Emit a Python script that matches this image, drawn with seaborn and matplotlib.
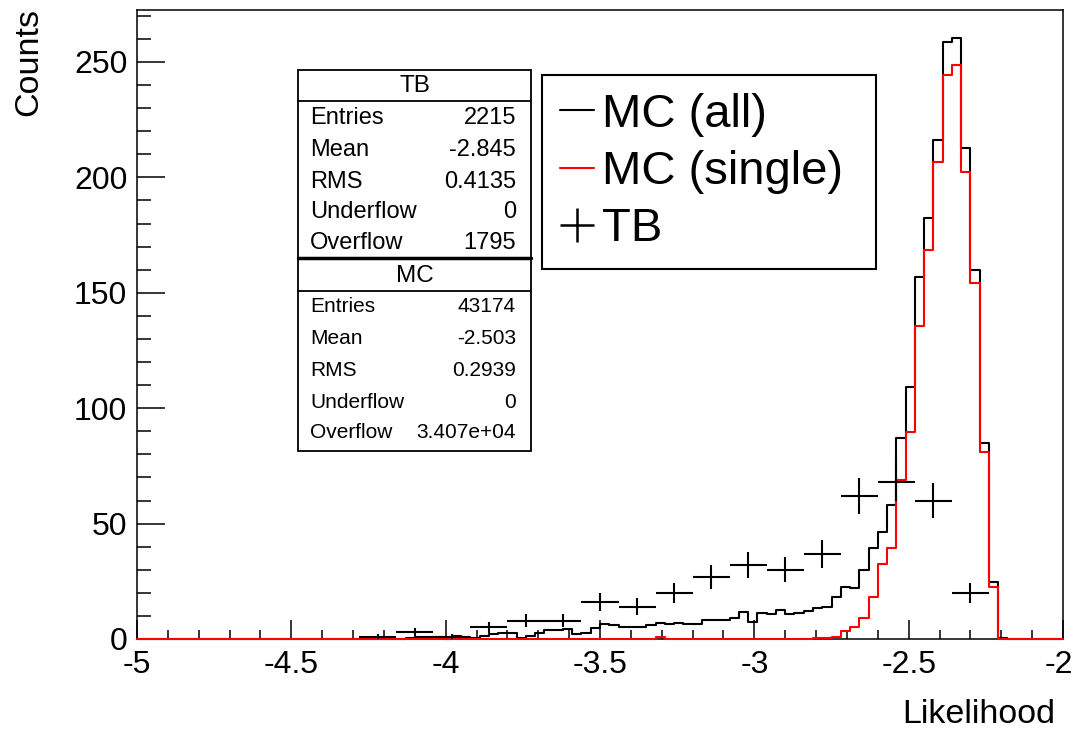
import numpy as np
import pandas as pd
import matplotlib
matplotlib.use("Agg")
import matplotlib.pyplot as plt
from matplotlib.patches import Rectangle
from matplotlib.lines import Line2D
from matplotlib.transforms import ScaledTranslation
from matplotlib.ticker import MultipleLocator, FixedLocator, FixedFormatter
import seaborn as sns

# ---------------- data ----------------
x_min, x_max = -5.0, -2.0
n_mc_bins = 100
n_tb_bins = 25

# MC (all): 100 bins of width 0.03 from -5 to -2
mc_all = [0] * 24 + [
    0, 0, 0, 0, 0, 0.5, 1, 1, 1, 0,          # bins 24-33
    1.5, 1, 0.5, 1.5, 2, 2.5, 2.5, 0.3, 1.4, 2.7,   # 34-43
    3.9, 3.9, 4.2, 2.0, 2.7, 4.6, 6.5, 6.1, 5.3, 5.1,  # 44-53
    5.1, 6.1, 6.8, 6.5, 7.1, 6.5, 6.5, 8.2, 8.2, 8.2,  # 54-63
    8.9, 11.8, 7.5, 11.4, 10.8, 12.6, 10.8, 11.4, 12.3, 13.3,  # 64-73
    14.0, 18.1, 22.7, 22.0, 30.0, 39.3, 46.5, 58.1, 87.0, 109.3,  # 74-83
    157.0, 182.3, 216.2, 258.7, 260.3, 212.6, 159.9, 85.0, 24.5, 0.5,  # 84-93
    0, 0, 0, 0, 0, 0]                        # 94-99

# MC (single)
mc_single = [0] * 56 + [1] + [0] * 16 + [
    0.5, 0.5, 1, 3.6, 5.3, 9.0, 18.3, 32.5, 39.3, 68.9,   # 73-82
    89.8, 135.6, 168.5, 206.8, 244.4, 248.7, 202.5, 154.1, 81.2, 22.5,  # 83-92
    0, 0, 0, 0, 0, 0, 0]                     # 93-99

# TB: 25 bins of width 0.12 from -5 to -2
tb_counts = [0, 0, 0, 0, 0, 0, 1, 3, 1, 5, 8, 8, 16, 14, 20, 27, 32, 30, 37,
             62, 68, 60, 20, 0, 0]

x_tick_values = [-5, -4.5, -4, -3.5, -3, -2.5, -2]
x_tick_labels = ["-5", "-4.5", "-4", "-3.5", "-3", "-2.5", "-2"]
y_tick_values = [0, 50, 100, 150, 200, 250]
y_tick_labels = ["0", "50", "100", "150", "200", "250"]

legend_labels = ["MC (all)", "MC (single)", "TB"]

stat_names = ["Entries", "Mean", "RMS", "Underflow", "Overflow"]
tb_stat_values = ["2215", "-2.845", "0.4135", "0", "1795"]
mc_stat_values = ["43174", "-2.503", "0.2939", "0", "3.407e+04"]

# ---------------- style ----------------
sns.set_theme(style="white")
plt.rcParams["font.family"] = ["Liberation Sans", "DejaVu Sans"]
plt.rcParams["axes.unicode_minus"] = False
plt.rcParams["text.color"] = "black"
plt.rcParams["axes.labelcolor"] = "black"
plt.rcParams["xtick.color"] = "black"
plt.rcParams["ytick.color"] = "black"

W, H = 1075, 733
fig = plt.figure(figsize=(W / 100, H / 100), dpi=100)
fig.patch.set_facecolor("white")

def fx(px):
    return px / W

def fy(py):
    return 1 - py / H

ax_l, ax_r, ax_t, ax_b = 137, 1063, 10, 639
ax = fig.add_axes([fx(ax_l), fy(ax_b), fx(ax_r) - fx(ax_l), fy(ax_t) - fy(ax_b)])

mc_edges = np.linspace(x_min, x_max, n_mc_bins + 1)
mc_centers = 0.5 * (mc_edges[:-1] + mc_edges[1:])
tb_edges = np.linspace(x_min, x_max, n_tb_bins + 1)
tb_centers = 0.5 * (tb_edges[:-1] + tb_edges[1:])

df_mc = pd.DataFrame({"x": mc_centers, "all": mc_all, "single": mc_single})

sns.histplot(data=df_mc, x="x", weights="all", bins=n_mc_bins, binrange=(x_min, x_max),
             element="step", fill=False, color="black", linewidth=1.5, ax=ax)
sns.histplot(data=df_mc, x="x", weights="single", bins=n_mc_bins, binrange=(x_min, x_max),
             element="step", fill=False, color="#ff0000", linewidth=1.5, ax=ax)
for ln in ax.lines:
    ln.set_clip_on(False)
    ln.set_zorder(3)

tb = np.array(tb_counts, dtype=float)
mask = tb > 0
ax.errorbar(tb_centers[mask], tb[mask], xerr=0.06, yerr=np.sqrt(tb[mask]),
            fmt="none", ecolor="black", elinewidth=1.5, capsize=0, zorder=4)

ax.set_xlim(x_min, x_max)
ax.set_ylim(0, 272.5)

ax.xaxis.set_major_locator(FixedLocator(x_tick_values))
ax.xaxis.set_major_formatter(FixedFormatter(x_tick_labels))
ax.xaxis.set_minor_locator(MultipleLocator(0.1))
ax.yaxis.set_major_locator(FixedLocator(y_tick_values))
ax.yaxis.set_major_formatter(FixedFormatter(y_tick_labels))
ax.yaxis.set_minor_locator(MultipleLocator(10))

ax.tick_params(axis="x", which="major", direction="in", length=13.5, width=1.1,
               labelsize=23, pad=8, colors="black", bottom=True, top=False)
ax.tick_params(axis="x", which="minor", direction="in", length=6.8, width=1.1,
               bottom=True, top=False)
ax.tick_params(axis="y", which="major", direction="in", length=20, width=1.1,
               labelsize=23, pad=7, colors="black", left=True, right=False)
ax.tick_params(axis="y", which="minor", direction="in", length=10, width=1.1,
               left=True, right=False)

for sp in ax.spines.values():
    sp.set_color("black")
    sp.set_linewidth(1.1)
    sp.set_visible(True)

ax.set_xlabel("Likelihood", fontsize=24.5, loc="right")
ax.xaxis.set_label_coords((1055 - ax_l) / (ax_r - ax_l), -(699 - ax_b) / (ax_b - ax_t))
ax.set_ylabel("")
fig.text(fx(29), fy(8), "Counts", rotation=90, ha="center", va="top", fontsize=24.5)
ax.grid(False)

# ---------------- legend ----------------
handles = [
    Line2D([], [], color="black", lw=1.5),
    Line2D([], [], color="#ff0000", lw=1.5),
    Line2D([], [], color="black", lw=0, marker="+", markersize=25, markeredgewidth=1.8),
]
leg = ax.legend(handles, legend_labels, loc="upper left",
                bbox_to_anchor=(fx(542), fy(270), fx(876) - fx(542), fy(75) - fy(270)),
                bbox_transform=fig.transFigure, mode="expand",
                fontsize=34, frameon=True, fancybox=False, framealpha=1,
                edgecolor="black", borderpad=0.38, labelspacing=0.28,
                handlelength=0.72, handletextpad=0.17, borderaxespad=0)
leg.get_frame().set_linewidth(1.5)
leg.set_zorder(10)

# ---------------- stats boxes ----------------
bx_l, bx_r = 298, 531

def stats_box(y_top, y_bot, title, values, row_ys, title_y, title_line_y, fs):
    rect = Rectangle((fx(bx_l), fy(y_bot)), fx(bx_r) - fx(bx_l), fy(y_top) - fy(y_bot),
                     transform=fig.transFigure, facecolor="white", edgecolor="black",
                     lw=1.3, zorder=5)
    fig.add_artist(rect)
    fig.add_artist(Line2D([fx(bx_l), fx(bx_r)], [fy(title_line_y), fy(title_line_y)],
                          transform=fig.transFigure, color="black", lw=1.3, zorder=6))
    fig.text(fx((bx_l + bx_r) / 2), fy(title_y), title, ha="center", va="center",
             fontsize=17.5, zorder=7)
    for name, val, yy in zip(stat_names, values, row_ys):
        fig.text(fx(310), fy(yy), name, ha="left", va="center", fontsize=fs, zorder=7)
        fig.text(fx(516), fy(yy), val, ha="right", va="center", fontsize=fs, zorder=7)

stats_box(70, 258, "TB", tb_stat_values, [118, 150, 182, 212, 243], 86, 101, 17)
stats_box(258, 451, "MC", mc_stat_values, [307, 339, 370, 402, 433], 276, 291, 15)
fig.add_artist(Line2D([fx(bx_l), fx(bx_r)], [fy(258), fy(258)],
                      transform=fig.transFigure, color="black", lw=2.5, zorder=8))

# keep the right-most tick label inside the canvas
fig.canvas.draw()
last_lbl = ax.get_xticklabels()[-1]
last_lbl.set_transform(last_lbl.get_transform() +
                       ScaledTranslation(-4 / 100, 0, fig.dpi_scale_trans))

fig.savefig("out.png", dpi=100, facecolor="white")
